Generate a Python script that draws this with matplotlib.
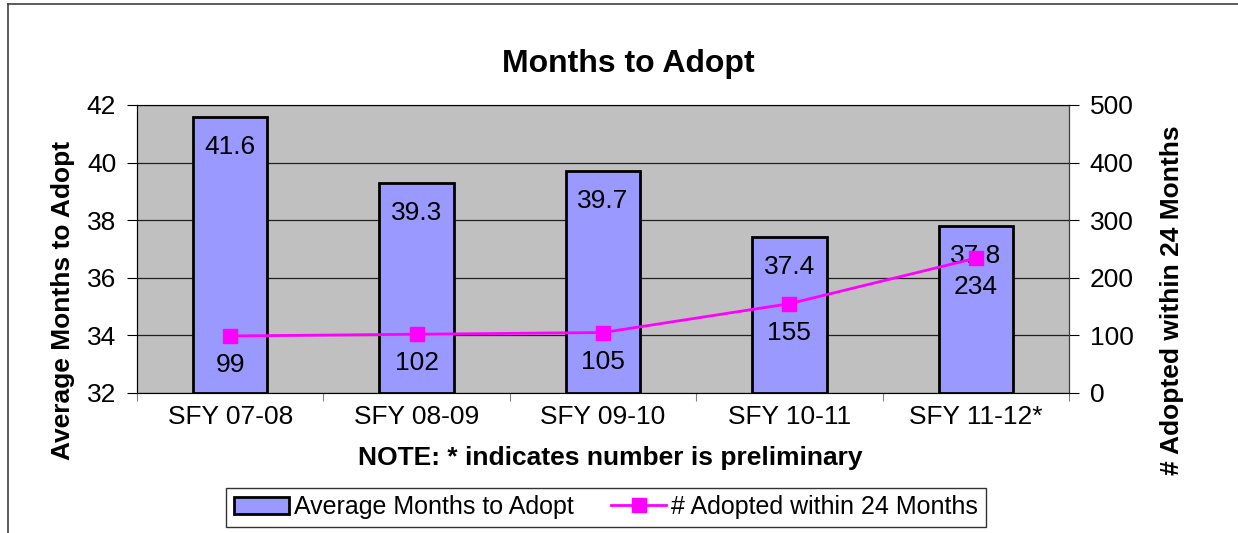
import matplotlib

matplotlib.use("Agg")
import matplotlib.pyplot as plt
from matplotlib.lines import Line2D
from matplotlib.patches import Patch

plt.rcParams["font.family"] = ["Liberation Sans", "DejaVu Sans"]

categories = ["SFY 07-08", "SFY 08-09", "SFY 09-10", "SFY 10-11", "SFY 11-12*"]
avg_months = [41.6, 39.3, 39.7, 37.4, 37.8]
adopted_24 = [99, 102, 105, 155, 234]

BAR_COLOR = "#9999FF"
LINE_COLOR = "#FF00FF"
PLOT_BG = "#C0C0C0"

fig = plt.figure(figsize=(12.38, 5.33), dpi=100)
ax = fig.add_axes([137 / 1238, 1 - 393 / 533, (1069 - 137) / 1238, (393 - 105) / 533])
ax.set_facecolor(PLOT_BG)

x = list(range(len(categories)))
ax.bar(x, [v - 32 for v in avg_months], bottom=32, width=0.4,
       color=BAR_COLOR, edgecolor="black", linewidth=2, zorder=3)
ax.set_xlim(-0.5, len(categories) - 0.5)
ax.set_ylim(32, 42)
ax.set_yticks(range(32, 43, 2))
ax.yaxis.grid(True, color="#202020", linewidth=0.9, zorder=1)
ax.set_axisbelow(True)

# category boundaries get the tick marks, labels sit in between
ax.set_xticks([i - 0.5 for i in range(len(categories) + 1)])
ax.set_xticklabels([])
ax.set_xticks(x, minor=True)
ax.set_xticklabels(categories, minor=True, fontsize=19)
ax.tick_params(axis="x", which="minor", length=0, pad=9)
ax.tick_params(axis="x", which="major", length=6, direction="out", color="#808080")
ax.tick_params(axis="y", length=7, direction="out", labelsize=19, pad=8)

ax.spines["top"].set_color("#808080")
ax.spines["left"].set_color("black")
ax.spines["bottom"].set_color("#808080")

for xi, v in zip(x, avg_months):
    ax.annotate(f"{v}", (xi, v), xytext=(0, -30), textcoords="offset pixels",
                ha="center", va="center", fontsize=19, zorder=6)

ax2 = ax.twinx()
ax2.set_ylim(0, 500)
ax2.set_yticks(range(0, 501, 100))
ax2.tick_params(axis="y", length=7, direction="out", labelsize=19, pad=8)
ax2.spines["right"].set_color("#404040")
ax2.plot(x, adopted_24, color=LINE_COLOR, linewidth=2, marker="s", markersize=10, zorder=5)
for xi, v in zip(x, adopted_24):
    ax2.annotate(f"{v}", (xi, v), xytext=(0, -29), textcoords="offset pixels",
                 ha="center", va="center", fontsize=19, zorder=6)

fig.text(628 / 1238, 1 - 64 / 533, "Months to Adopt", ha="center", va="center",
         fontsize=23, fontweight="bold")
fig.text(63 / 1238, 1 - 300 / 533, "Average Months to Adopt", ha="center", va="center",
         rotation=90, fontsize=19, fontweight="bold")
fig.text(1172 / 1238, 1 - 300 / 533, "# Adopted within 24 Months", ha="center", va="center",
         rotation=90, fontsize=19, fontweight="bold")
fig.text(610 / 1238, 1 - 458 / 533, "NOTE: * indicates number is preliminary", ha="center",
         va="center", fontsize=19, fontweight="bold")

handles = [
    Patch(facecolor=BAR_COLOR, edgecolor="black", linewidth=2),
    Line2D([], [], color=LINE_COLOR, linewidth=2, marker="s", markersize=10),
]
leg = fig.legend(handles, ["Average Months to Adopt", "# Adopted within 24 Months"],
                 loc="center", bbox_to_anchor=(606 / 1238, 1 - 507 / 533), ncol=2,
                 fontsize=18, frameon=True, fancybox=False, edgecolor="black",
                 handlelength=2.2, handletextpad=0.2, columnspacing=1.5,
                 borderpad=0.3, borderaxespad=0)
leg.get_frame().set_linewidth(1)

fig.add_artist(Line2D([8 / 1238, 8 / 1238], [0, 1 - 4 / 533], color="#404040", linewidth=1.2))
fig.add_artist(Line2D([8 / 1238, 1], [1 - 4 / 533, 1 - 4 / 533], color="#404040", linewidth=1.2))

fig.savefig("out.png", dpi=100)
